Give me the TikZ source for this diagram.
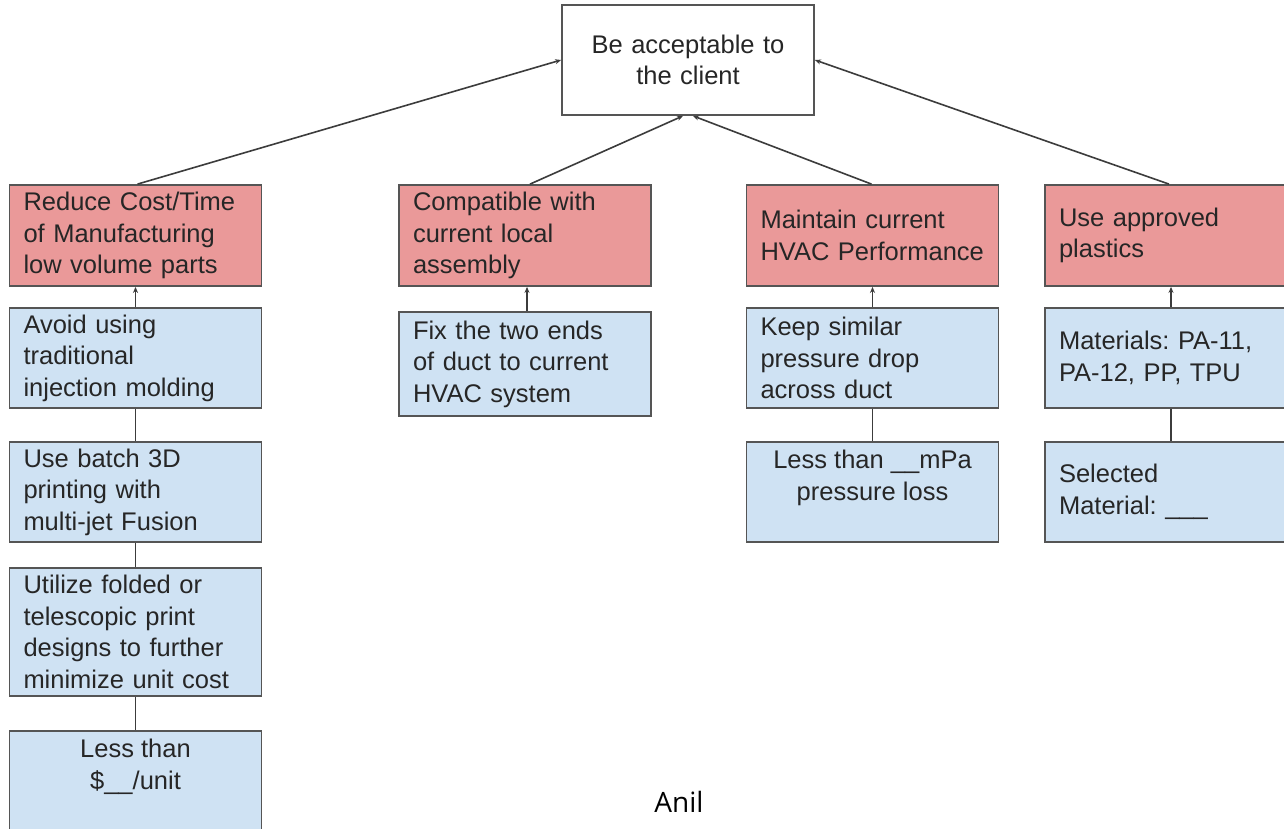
\documentclass[tikz,border=0pt]{standalone}
\usepackage{fontspec}
\setmainfont{Liberation Sans}
\newfontfamily\anilfont{Open Sans}
\usetikzlibrary{arrows.meta,calc}
\definecolor{redfill}{HTML}{EA9999}
\definecolor{bluefill}{HTML}{CFE2F3}
\definecolor{edgecol}{HTML}{555555}
\definecolor{linecol}{HTML}{3C3C3C}
\definecolor{txtcol}{HTML}{262626}
\frenchspacing
\begin{document}
\begin{tikzpicture}[x=1pt,y=-1pt,
  boxbase/.style={draw=edgecol,line width=1.8pt,rectangle,inner ysep=0pt,inner xsep=14pt,
    text=txtcol,font=\fontsize{25.5}{31.5}\selectfont,minimum width=252pt,text width=224pt},
  goal/.style={boxbase,fill=white,align=center},
  redbox/.style={boxbase,fill=redfill,align=left,minimum height=101pt},
  bluebox/.style={boxbase,fill=bluefill,align=left,minimum height=100pt},
  toptext/.style={inner sep=0pt,text=txtcol,font=\fontsize{25.5}{31.5}\selectfont,align=center,anchor=north},
  link/.style={draw=linecol,line width=1.6pt},
  arr/.style={link,-{Stealth[length=6pt,width=5pt]}}
]
\useasboundingbox (0,0) rectangle (1284,828);
\clip (0,0) rectangle (1284,828);
\fill[white] (0,0) rectangle (1284,828);

% top goal
\node[goal,minimum height=110pt] (top) at (688,60) {Be acceptable to\\the client};

% red boxes
\node[redbox] (r1) at (135.5,235.5) {Reduce Cost/Time\\of Manufacturing\\low volume parts};
\node[redbox] (r2) at (525,235.5) {Compatible with\\current local\\assembly};
\node[redbox] (r3) at (872.5,235.5) {Maintain current\\HVAC~Performance};
\node[redbox] (r4) at (1171,235.5) {Use approved\\plastics};

% column 1
\node[bluebox] (a1) at (135.5,358) {Avoid using\\traditional\\injection molding};
\node[bluebox] (a2) at (135.5,492) {Use batch 3D\\printing with\\multi-jet Fusion};
\node[bluebox,minimum height=128pt] (a3) at (135.5,632) {Utilize folded or\\telescopic print\\designs to further\\minimize unit cost};
\node[bluebox,minimum height=130pt] (a4) at (135.5,796) {};
\node[toptext] (a4t) at ($(a4.north)+(0,9)$) {Less than\\\$\_\_/unit};

% column 2
\node[bluebox,minimum height=104pt] (b1) at (525,364) {Fix the two ends\\of duct to current\\HVAC system};

% column 3
\node[bluebox] (c1) at (872.5,358) {Keep similar\\pressure drop\\across duct};
\node[bluebox] (c2) at (872.5,492) {};
\node[toptext] (c2t) at ($(c2.north)+(0,9)$) {Less than \_\_mPa\\pressure loss};

% column 4
\node[bluebox] (d1) at (1171,358) {Materials: PA-11,\\PA-12, PP, TPU};
\node[bluebox] (d2) at (1171,492) {Selected\\Material: \_\_\_};

% connectors to the goal
\draw[arr] ($(r1.north)+(2,0)$) -- (top.west);
\draw[arr] ($(r2.north)+(5,0)$) -- ($(top.south)+(-5,0)$);
\draw[arr] ($(r3.north)+(-1,0)$) -- ($(top.south)+(5,0)$);
\draw[arr] ($(r4.north)+(-2,0)$) -- (top.east);

% blue to red
\draw[arr] (a1.north) -- (r1.south);
\draw[arr] ($(b1.north)+(2,0)$) -- ($(r2.south)+(2,0)$);
\draw[arr] (c1.north) -- (c1.north |- r3.south);
\draw[arr] (d1.north) -- (d1.north |- r4.south);

% blue chains
\draw[link] (a1.south) -- (a2.north);
\draw[link] (a2.south) -- (a3.north);
\draw[link] (a3.south) -- (a4.north);
\draw[link] (c1.south) -- (c2.north);
\draw[link] (d1.south) -- (d2.north);

% signature
\node[anchor=base,inner sep=0pt,font=\anilfont\fontsize{28}{33}\selectfont,text=black] (anil) at (679,812) {Anil};
\end{tikzpicture}
\end{document}
